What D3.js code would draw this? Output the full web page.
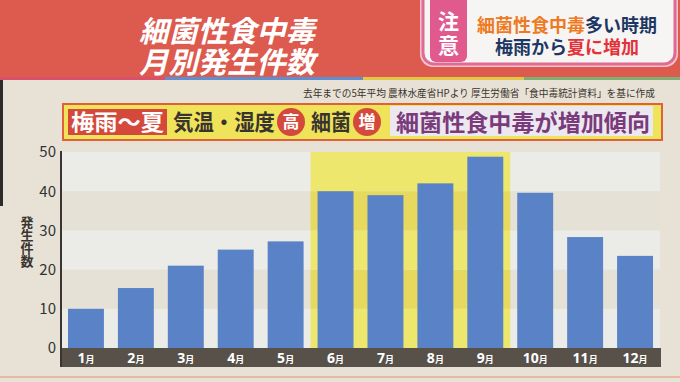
<!DOCTYPE html>
<html><head><meta charset="utf-8">
<script src="https://cdn.jsdelivr.net/npm/d3@7"></script>
<style>
html,body{margin:0;padding:0;background:#e8e2d6;}
svg{display:block;}
text{font-family:"Noto Sans CJK JP","Noto Sans",sans-serif;}
</style></head>
<body>
<svg id="chart" width="680" height="382"></svg>
<script>
// ---- data ----
const months = ["1月","2月","3月","4月","5月","6月","7月","8月","9月","10月","11月","12月"];
const cases = [10, 15.3, 21, 25.1, 27.2, 40, 39, 42, 48.8, 39.6, 28.3, 23.5];
const yTicks = [0, 10, 20, 30, 40, 50];
const highlightRange = ["6月", "9月"];
const titleLines = ["細菌性食中毒", "月別発生件数"];
const sourceNote = "去年までの5年平均 農林水産省HPより 厚生労働省「食中毒統計資料」を基に作成";
const yAxisTitle = "発生件数";

const svg = d3.select("#chart");
const W = 680, H = 382;

// background
svg.append("rect").attr("width", W).attr("height", H).attr("fill", "#e8e2d6");
svg.append("rect").attr("x", 0).attr("y", 80).attr("width", 3).attr("height", 126).attr("fill", "#2e2a28");
svg.append("rect").attr("x", 0).attr("y", 376).attr("width", W).attr("height", 2).attr("fill", "#e6b9a2");

// header
svg.append("rect").attr("x", 0).attr("y", 0).attr("width", W).attr("height", 78).attr("fill", "#dc5a4e");
const stripes = [[0,165,"#d9506a"],[165,363,"#5e8fd0"],[363,524,"#e2c646"],[524,680,"#7fae72"]];
stripes.forEach(s => svg.append("rect").attr("x", s[0]).attr("y", 77).attr("width", s[1]-s[0]).attr("height", 3).attr("fill", s[2]));

const title = svg.append("text").attr("text-anchor", "middle").attr("font-size", 29.3).attr("font-weight", 700)
  .attr("font-style", "italic").attr("fill", "#fff");
titleLines.forEach((t, i) => title.append("tspan").attr("x", 227).attr("y", 42 + i*31).text(t));

// right notice box
svg.append("rect").attr("x", 420).attr("y", -14).attr("width", 258).attr("height", 81).attr("rx", 13)
  .attr("fill", "#f3c3cf");
svg.append("rect").attr("x", 423).attr("y", -12).attr("width", 252).attr("height", 76).attr("rx", 11)
  .attr("fill", "#f7f5f3").attr("stroke", "#e06a92").attr("stroke-width", 3);
svg.append("rect").attr("x", 430).attr("y", -10).attr("width", 37).attr("height", 72).attr("rx", 6)
  .attr("fill", "#e05a8e");
svg.append("text").attr("x", 448.5).attr("y", 11)
  .attr("writing-mode", "tb").style("writing-mode", "vertical-rl")
  .attr("font-size", 21).attr("font-weight", 700).attr("fill", "#fff")
  .attr("letter-spacing", 3).text("注意");

const note = svg.append("text").attr("font-size", 18).attr("font-weight", 700);
const n1 = note.append("tspan").attr("x", 477).attr("y", 32);
n1.append("tspan").attr("fill", "#ee7a22").text("細菌性食中毒");
n1.append("tspan").attr("fill", "#1d3764").text("多い時期");
const n2 = note.append("tspan").attr("x", 495).attr("y", 54);
n2.append("tspan").attr("fill", "#1d3764").text("梅雨から");
n2.append("tspan").attr("fill", "#e2323a").text("夏に増加");

// source note
svg.append("text").attr("x", 303).attr("y", 97).attr("font-size", 10).attr("fill", "#3a3530")
  .attr("textLength", 352).attr("lengthAdjust", "spacingAndGlyphs").text(sourceNote);

// callout box
svg.append("rect").attr("x", 63).attr("y", 104).attr("width", 599).attr("height", 36)
  .attr("fill", "#efe35a").attr("stroke", "#e0603a").attr("stroke-width", 2);
svg.append("rect").attr("x", 68).attr("y", 109).attr("width", 99).attr("height", 26).attr("fill", "#d4493c");
svg.append("text").attr("x", 71).attr("y", 130).attr("font-size", 22).attr("font-weight", 700).attr("fill", "#fff")
  .attr("textLength", 93).attr("lengthAdjust", "spacingAndGlyphs").text("梅雨〜夏");
svg.append("text").attr("x", 173).attr("y", 130).attr("font-size", 22).attr("font-weight", 700).attr("fill", "#3a342e")
  .attr("textLength", 102).attr("lengthAdjust", "spacingAndGlyphs").text("気温・湿度");
svg.append("circle").attr("cx", 291).attr("cy", 122).attr("r", 14).attr("fill", "#d4493c");
svg.append("text").attr("x", 291).attr("y", 128).attr("text-anchor", "middle").attr("font-size", 17).attr("font-weight", 700).attr("fill", "#fff").text("高");
svg.append("text").attr("x", 311).attr("y", 130).attr("font-size", 22).attr("font-weight", 700).attr("fill", "#3a342e")
  .attr("textLength", 40).attr("lengthAdjust", "spacingAndGlyphs").text("細菌");
svg.append("circle").attr("cx", 367).attr("cy", 122).attr("r", 14).attr("fill", "#d4493c");
svg.append("text").attr("x", 367).attr("y", 128).attr("text-anchor", "middle").attr("font-size", 17).attr("font-weight", 700).attr("fill", "#fff").text("増");
svg.append("rect").attr("x", 390).attr("y", 106).attr("width", 263).attr("height", 30).attr("fill", "#ece8ef");
svg.append("text").attr("x", 396).attr("y", 131).attr("font-size", 23).attr("font-weight", 700).attr("fill", "#7a3a7c")
  .attr("textLength", 254).attr("lengthAdjust", "spacingAndGlyphs").text("細菌性食中毒が増加傾向");

// ---- chart ----
const left = 61, right = 660, y0 = 348, yTop = 152;
const x = d3.scaleBand().domain(months).range([left, right]).paddingInner(0.28).paddingOuter(0.14);
const y = d3.scaleLinear().domain([0, 50]).range([y0, yTop]);

// stripes between ticks
const bandPairs = d3.pairs(yTicks);
const plot = svg.append("g");
bandPairs.forEach((p, i) => {
  plot.append("rect").attr("x", left).attr("y", y(p[1])).attr("width", right - left).attr("height", y(p[0]) - y(p[1]))
    .attr("fill", i % 2 === 0 ? "#ebebe8" : "#e5e1d6");
});
// highlight
const gap = x.step() * x.paddingInner();
const hx0 = x(highlightRange[0]) - gap/2, hx1 = x(highlightRange[1]) + x.bandwidth() + gap/2;
bandPairs.forEach((p, i) => {
  plot.append("rect").attr("x", hx0).attr("y", y(p[1])).attr("width", hx1 - hx0).attr("height", y(p[0]) - y(p[1]))
    .attr("fill", i % 2 === 0 ? "#eee76e" : "#e6d95e");
});

// bars
svg.append("g").selectAll("rect").data(cases).join("rect")
  .attr("x", (d, i) => x(months[i])).attr("width", x.bandwidth())
  .attr("y", d => y(d)).attr("height", d => y(0) - y(d))
  .attr("fill", "#5a83c7");

// x band
svg.append("rect").attr("x", 60).attr("y", 348).attr("width", 601).attr("height", 19).attr("fill", "#57514a");
const xl = svg.append("g").selectAll("text").data(months).join("text")
  .attr("x", d => x(d) + x.bandwidth()/2).attr("y", 363)
  .attr("text-anchor", "middle").attr("fill", "#fff").attr("font-weight", 700);
xl.append("tspan").attr("font-size", 14).attr("font-family", "'Noto Sans',sans-serif").text(d => d.replace("月", ""));
xl.append("tspan").attr("font-size", 9).text("月");

// y axis
const ya = svg.append("g").attr("transform", `translate(${left},0)`)
  .call(d3.axisLeft(y).tickValues(yTicks).tickSize(0).tickPadding(5));
ya.select(".domain").remove();
ya.selectAll("text").attr("font-size", 15).attr("fill", "#333").attr("font-family", "'Noto Sans',sans-serif");
svg.append("line").attr("x1", left).attr("x2", left).attr("y1", 151).attr("y2", 367)
  .attr("stroke", "#3a3530").attr("stroke-width", 2);

// vertical y-axis title (single text element)
svg.append("text").attr("x", 27).attr("y", 216)
  .attr("writing-mode", "tb").style("writing-mode", "vertical-rl")
  .attr("text-anchor", "start").attr("font-size", 13).attr("font-weight", 700).attr("fill", "#3a3530")
  .attr("textLength", 52).attr("lengthAdjust", "spacing")
  .text(yAxisTitle);
</script>
</body></html>
